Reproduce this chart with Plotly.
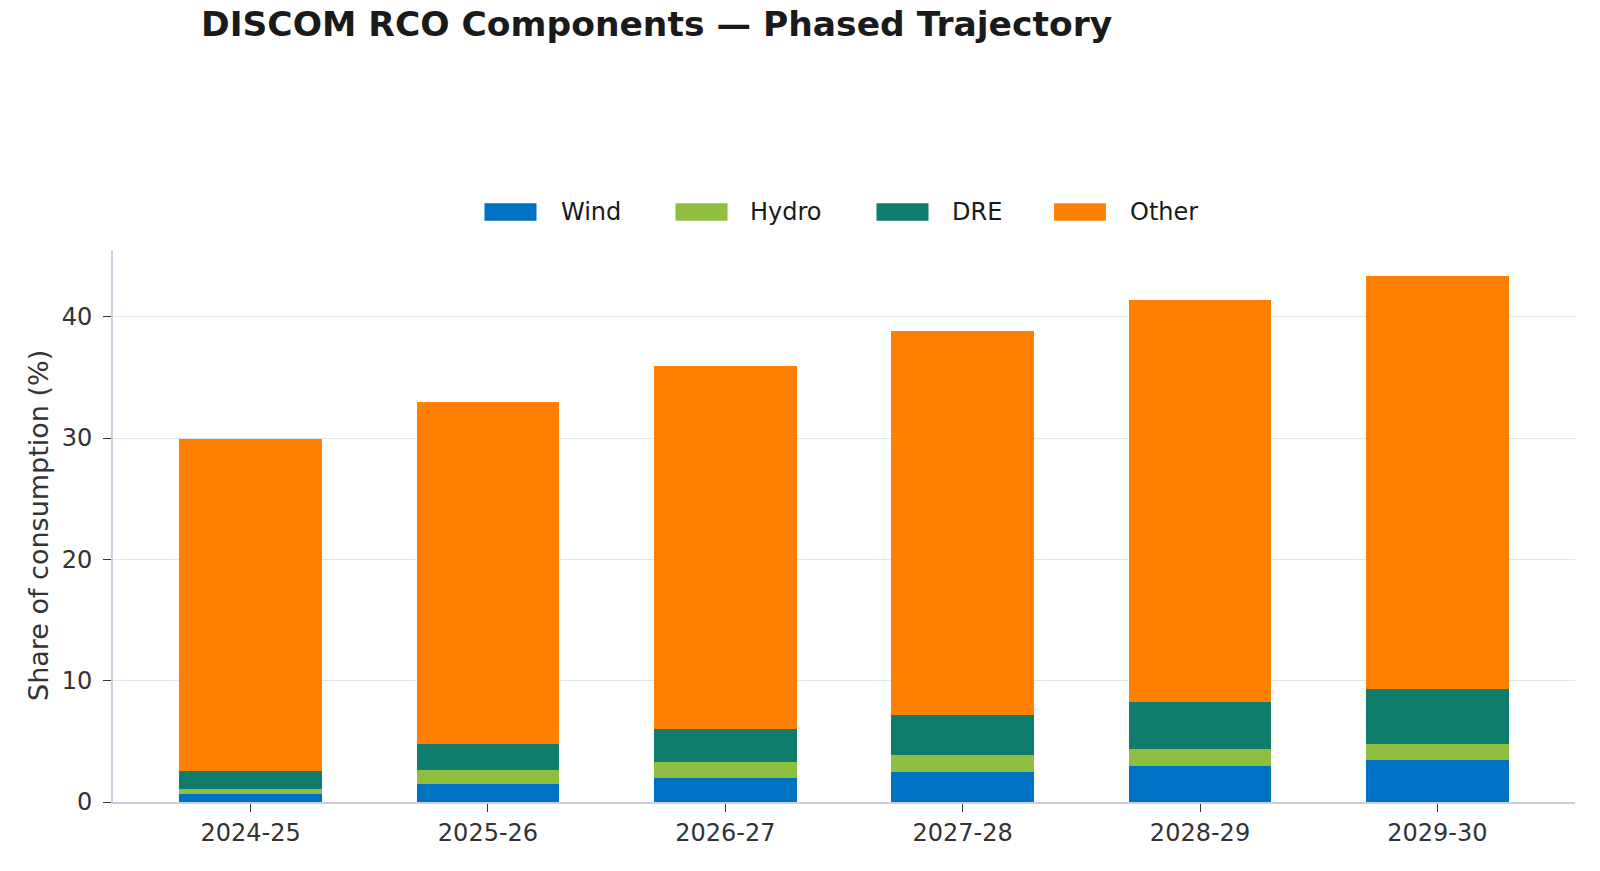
import plotly.graph_objects as go

categories = ["2024-25", "2025-26", "2026-27", "2027-28", "2028-29", "2029-30"]
wind = [0.67, 1.45, 1.97, 2.45, 2.95, 3.48]
hydro = [0.38, 1.22, 1.34, 1.42, 1.42, 1.33]
dre = [1.50, 2.10, 2.70, 3.30, 3.90, 4.50]
other = [27.35, 28.24, 29.94, 31.64, 33.10, 34.02]
series_names = ["Wind", "Hydro", "DRE", "Other"]
series_values = [wind, hydro, dre, other]
colors = ["#0072C4", "#90BE40", "#107C6C", "#FF8000"]
y_ticks = [0, 10, 20, 30, 40]

W, H = 1600, 871
L, R, T, B = 113, 25, 250, 69
PW, PH = W - L - R, H - T - B

fig = go.Figure()
for name, vals, col in zip(series_names, series_values, colors):
    fig.add_trace(go.Bar(x=categories, y=vals, name=name, marker=dict(color=col, line=dict(width=0)),
                         width=0.6, showlegend=False))

totals = [sum(v) for v in zip(*series_values)]
ymax = max(totals) * 1.05

font = "DejaVu Sans"
fig.update_layout(
    width=W, height=H, barmode="stack",
    margin=dict(l=L, r=R, t=T, b=B, pad=0, autoexpand=False),
    plot_bgcolor="white", paper_bgcolor="white",
    font=dict(family=font, color="#333333", size=22),
    title=dict(text="<b>DISCOM RCO Components — Phased Trajectory</b>",
               font=dict(family=font, size=34.5, color="#1a1a1a"),
               x=201 / W, xref="container", xanchor="left",
               y=1 - 24 / H, yref="container", yanchor="middle"),
    xaxis=dict(range=[-0.58, 5.58], showline=True, linecolor="#CACFDC", linewidth=1.8,
               ticks="outside", ticklen=8, tickcolor="#333333", tickwidth=1.2,
               automargin=False, showgrid=False, tickfont=dict(size=24, color="#333333")),
    yaxis=dict(range=[0, ymax], showline=True, linecolor="#CACFDC", linewidth=1.8,
               ticks="outside", ticklen=8, tickcolor="#333333", tickwidth=1.2,
               ticklabelstandoff=6, automargin=False,
               tickvals=y_ticks, showgrid=True, gridcolor="#E3E6EF", gridwidth=1.4,
               zeroline=False, tickfont=dict(size=24, color="#333333")),
)

# y-axis title placed explicitly
fig.add_annotation(text="Share of consumption (%)", xref="paper", yref="paper", showarrow=False,
                   x=(38 - L) / PW, y=0.5, xanchor="center", yanchor="middle", textangle=-90,
                   font=dict(size=27, color="#333333", family=font))

# custom legend (wide swatches)
rect_x = [484.5, 675.5, 876.5, 1054]
text_x = [558.5, 748, 950, 1127.5]
ry0, ry1 = 203.3, 220.7
for name, col, rx, tx in zip(series_names, colors, rect_x, text_x):
    fig.add_shape(type="rect", xref="paper", yref="paper",
                  x0=(rx - L) / PW, x1=(rx + 52 - L) / PW,
                  y0=(H - B - ry1) / PH, y1=(H - B - ry0) / PH,
                  fillcolor=col, line=dict(width=0))
    fig.add_annotation(text=name, xref="paper", yref="paper", showarrow=False,
                       x=(tx - L) / PW, y=(H - B - 211.5) / PH, xanchor="left", yanchor="middle",
                       font=dict(size=24, color="#1a1a1a", family=font))

fig.write_html("out.html", config={"displayModeBar": False},
               post_script="document.body.style.margin='0';document.body.style.overflow='hidden';")
